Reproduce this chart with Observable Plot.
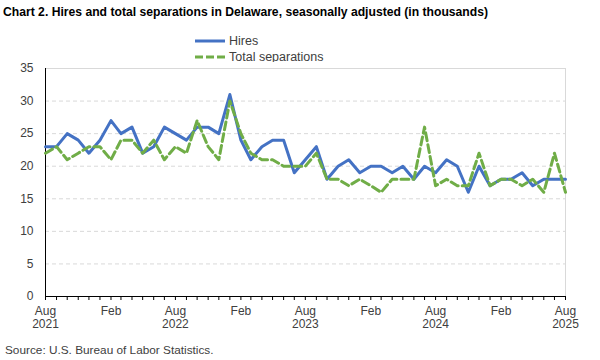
<!DOCTYPE html>
<html><head><meta charset="utf-8">
<script src="https://cdn.jsdelivr.net/npm/d3@7"></script>
<script src="https://cdn.jsdelivr.net/npm/@observablehq/plot@0.6"></script>
<style>
body{margin:0;background:#fff;font-family:"Liberation Sans",Arial,sans-serif;}
#wrap{position:relative;width:600px;height:360px;overflow:hidden;background:#fff}
#title{position:absolute;left:3px;top:5px;font-family:"Liberation Sans Narrow","Liberation Sans",Arial,sans-serif;font-weight:bold;font-size:14px;color:#000;white-space:nowrap}
#legend{position:absolute;left:195px;top:33px;font-size:12.5px;color:#404040}
.row{display:flex;align-items:center;height:16px}
.row svg{margin-right:4px}
#chart{position:absolute;left:0;top:62px}
#source{position:absolute;left:5px;top:343px;font-size:11.8px;color:#404040;white-space:nowrap}
</style></head>
<body>
<div id="wrap">
  <div id="title">Chart 2. Hires and total separations in Delaware, seasonally adjusted (in thousands)</div>
  <div id="legend">
    <div class="row"><svg width="30" height="6"><line x1="0" x2="30" y1="3" y2="3" stroke="#4472C4" stroke-width="3"/></svg><span>Hires</span></div>
    <div class="row"><svg width="30" height="6"><line x1="0" x2="30" y1="3" y2="3" stroke="#70AD47" stroke-width="3" stroke-dasharray="8,3"/></svg><span>Total separations</span></div>
  </div>
  <div id="chart"></div>
  <div id="source">Source: U.S. Bureau of Labor Statistics.</div>
</div>
<script>
const startMonth = "2021-08-01";
const hires = [23,23,25,24,22,24,27,25,26,22,23,26,
               25,24,26,26,25,31,24,21,23,24,24,19,
               21,23,18,20,21,19,20,20,19,20,18,20,
               19,21,20,16,20,17,18,18,19,17,18,18,18];
const separations = [22,23,21,22,23,23,21,24,24,22,24,21,
                     23,22,27,23,21,30,25,22,21,21,20,20,
                     20,22,18,18,17,18,17,16,18,18,18,26,
                     17,18,17,17,22,17,18,18,17,18,16,22,16];
const yTicks = [0,5,10,15,20,25,30,35];
const xTickLabels = ["Aug\n2021","Feb","Aug\n2022","Feb","Aug\n2023","Feb","Aug\n2024","Feb","Aug\n2025"];

const start = new Date(startMonth + "T00:00:00Z");
const data = hires.map((h, i) => ({date: d3.utcMonth.offset(start, i), hires: h, separations: separations[i]}));
const end = data[data.length - 1].date;
const labelDates = xTickLabels.map((_, i) => d3.utcMonth.offset(start, i * 6));
const monthTicks = d3.utcMonth.range(start, d3.utcMonth.offset(end, 1));

const chart = Plot.plot({
  width: 600, height: 280,
  marginTop: 6, marginBottom: 46, marginLeft: 45, marginRight: 35,
  style: {fontFamily: '"Liberation Sans", Arial, sans-serif', fontSize: "12px", color: "#404040", background: "#fff"},
  x: {type: "utc", domain: [start, end]},
  y: {domain: [0, 35]},
  marks: [
    Plot.ruleY(yTicks.filter(v => v > 0 && v < 35), {stroke: "#d9d9d9", strokeDasharray: "4,3", strokeWidth: 1}),
    Plot.ruleY([35], {stroke: "#d9d9d9"}),
    Plot.ruleX([end], {stroke: "#d9d9d9"}),
    Plot.axisY({ticks: yTicks, tickSize: 0, tickPadding: 12, label: null, fill: "#404040"}),
    Plot.axisX({ticks: monthTicks, tickSize: 4, tickFormat: () => "", label: null, stroke: "#000"}),
    Plot.axisX({ticks: labelDates, tickSize: 0, tickPadding: 9, tickFormat: (d, i) => xTickLabels[i], label: null, lineHeight: 1.1, fill: "#404040"}),
    Plot.ruleY([0], {stroke: "#000"}),
    Plot.ruleX([start], {stroke: "#000"}),
    Plot.lineY(data, {x: "date", y: "hires", stroke: "#4472C4", strokeWidth: 3}),
    Plot.lineY(data, {x: "date", y: "separations", stroke: "#70AD47", strokeWidth: 3, strokeDasharray: "8,4"})
  ]
});
document.getElementById("chart").appendChild(chart);

// fit title to reference width
const t = document.getElementById("title");
const w = t.getBoundingClientRect().width;
t.style.fontSize = Math.min(15, 14 * 485 / w).toFixed(2) + "px";
</script>
</body></html>
